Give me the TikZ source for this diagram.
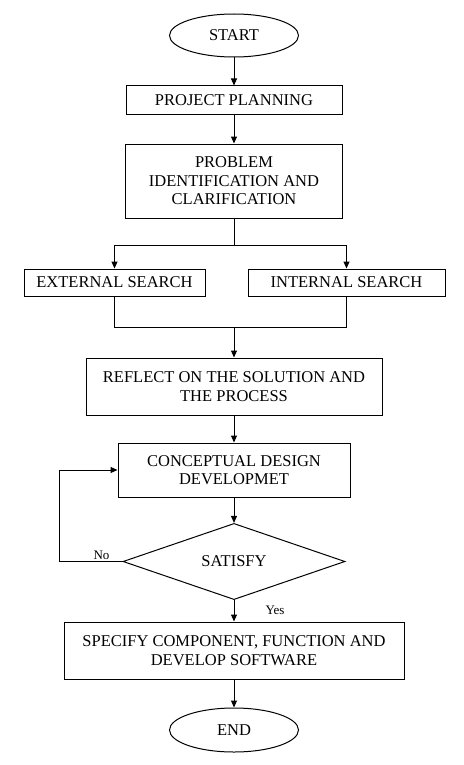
\documentclass[tikz,border=0pt]{standalone}
\usepackage{fontspec}
\setmainfont{Liberation Serif}
\usetikzlibrary{shapes.geometric,arrows.meta}

\begin{document}
\begin{tikzpicture}[
		x=1pt, y=-1pt,
		every node/.style={font=\fontsize{16.5}{18.5}\selectfont},
		box/.style={draw, rectangle, inner sep=0pt, align=center, line width=1pt},
		term/.style={draw, ellipse, inner sep=0pt, minimum width=129pt, minimum height=43pt, line width=1pt},
		decision/.style={draw, diamond, inner sep=0pt, minimum width=222pt, minimum height=57pt, line width=1pt},
		arr/.style={-{Triangle[length=7pt,width=6pt]}, line width=1pt},
		lbl/.style={font=\fontsize{13}{15}\selectfont, inner sep=1pt}
	]
		\useasboundingbox (0,0) rectangle (463,765);
		% main column
		\node[term] (start) at (234,35.5) {START};
		\node[box, minimum width=216pt, minimum height=29pt] (plan) at (234,100.5) {PROJECT PLANNING};
		\node[box, minimum width=217pt, minimum height=74pt] (prob) at (234,181) {PROBLEM\\IDENTIFICATION AND\\CLARIFICATION};
		\node[box, minimum width=181pt, minimum height=27pt] (ext) at (114.5,282.5) {EXTERNAL SEARCH};
		\node[box, minimum width=197pt, minimum height=27pt] (int) at (346.5,282.5) {INTERNAL SEARCH};
		\node[box, minimum width=296pt, minimum height=57pt] (refl) at (234,386.5) {REFLECT ON THE SOLUTION AND\\THE PROCESS};
		\node[box, minimum width=232pt, minimum height=54pt] (cdd) at (234,470) {CONCEPTUAL DESIGN\\DEVELOPMET};
		\node[decision] (sat) at (234,561.5) {SATISFY};
		\node[box, minimum width=340pt, minimum height=57pt] (spec) at (234,650.5) {SPECIFY COMPONENT, FUNCTION AND\\DEVELOP SOFTWARE};
		\node[term, minimum height=44pt] (stop) at (234,730) {END};
		% helper points
		\coordinate (fork) at (234,245);
		\coordinate (join) at (234,327);
		\coordinate (loop) at (59,561.5);
		% connectors
		\draw[arr] (start) -- (plan);
		\draw[arr] (plan) -- (prob);
		\draw (prob.south) -- (fork);
		\draw (fork -| ext.north) -- (fork -| int.north);
		\draw[arr] (fork -| ext.north) -- (ext.north);
		\draw[arr] (fork -| int.north) -- (int.north);
		\draw (ext.south) -- (join -| ext.south) -- (join -| int.south) -- (int.south);
		\draw[arr] (join) -- (refl.north);
		\draw[arr] (refl) -- (cdd);
		\draw[arr] (cdd) -- (sat);
		\draw[arr] (sat.west) -- node[lbl, above, pos=0.33] {No} (loop) |- (cdd.west);
		\draw[arr] (sat.south) -- node[lbl, anchor=west, xshift=30pt] {Yes} (spec.north);
		\draw[arr] (spec) -- (stop);
\end{tikzpicture}
\end{document}
